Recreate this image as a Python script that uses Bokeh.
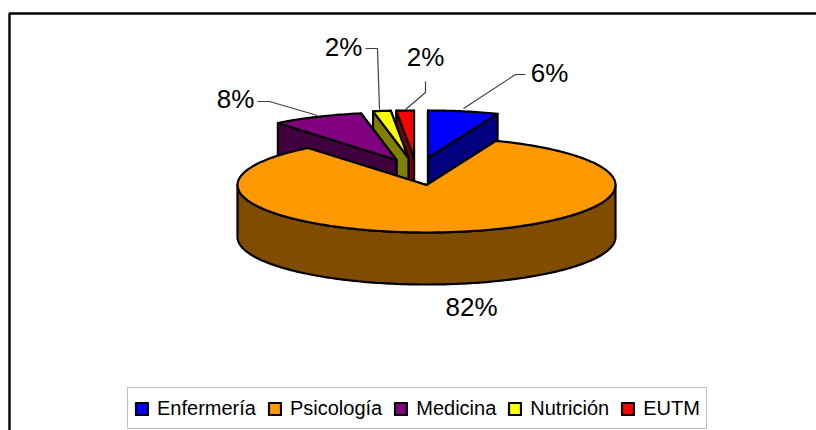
import numpy as np
from bokeh.embed import file_html
from bokeh.resources import INLINE
from bokeh.plotting import figure
from bokeh.models import Range1d, Legend, LegendItem
from bokeh.core.properties import value

# Data
categories = ["Enfermería", "Psicología", "Medicina", "Nutrición", "EUTM"]
shares = [6.0, 83.2, 7.8, 1.5, 1.5]          # slice sizes as drawn
label_values = [6, 82, 8, 2, 2]              # printed percentages
top_colors = ["#0000FF", "#FF9900", "#800080", "#FFFF00", "#FF0000"]
side_colors = ["#000080", "#7F4C00", "#400040", "#808000", "#800000"]

# Layout (page pixels)
CX, CY, RX, RY, DEPTH = 426, 184.5, 189, 47.5, 52
explode = [(1.5, -27), (0, 0), (-30, -25), (-18, -27), (-12.5, -27)]
label_pos = [(549, 72.5), (471, 306.5), (235, 98.5), (343, 46.5), (425, 56.5)]
leaders = [
    [(525, 74), (515, 74), (463, 108)],
    [(257, 101), (269, 101), (317, 115)],
    [(365, 48), (377, 48), (379, 109)],
    [(425, 81), (425, 92), (405, 109)],
]

p = figure(width=816, height=430, x_range=Range1d(0, 816), y_range=Range1d(430, 0),
           x_axis_type=None, y_axis_type=None, toolbar_location=None,
           output_backend="svg", min_border=0, outline_line_color=None,
           background_fill_color="white", border_fill_color="white")
p.grid.visible = False

# Chart-area frame (open on the right and at the bottom of the picture)
p.line([9, 9, 816], [430, 13, 13], line_color="black", line_width=2.4)

edges = np.concatenate([[0], np.cumsum(shares)]) * 3.6
EDGE = dict(line_color="black", line_width=2.2, line_join="round")


def arc(a0, a1, ox, oy):
    t = np.radians(np.linspace(a0, a1, max(2, int(abs(a1 - a0)) + 2)))
    return ox + RX * np.sin(t), oy - RY * np.cos(t)


tops = {}
# painter's order: back slices first, the big front slice last
for i in [4, 3, 2, 0, 1]:
    a0, a1 = edges[i], edges[i + 1]
    ox, oy = CX + explode[i][0], CY + explode[i][1]
    ax, ay = arc(a0, a1, ox, oy)
    # radial cut faces, back one first
    for a in sorted([a0, a1], key=lambda v: -np.cos(np.radians(v))):
        ex, ey = arc(a, a, ox, oy)
        p.patch([ox, ex[0], ex[0], ox], [oy, ey[0], ey[0] + DEPTH, oy + DEPTH],
                fill_color=side_colors[i], **EDGE)
    # outer rim, front half only
    r0, r1 = max(a0, 90), min(a1, 270)
    if r1 > r0:
        rx, ry = arc(r0, r1, ox, oy)
        p.patch(np.concatenate([rx, rx[::-1]]), np.concatenate([ry, ry[::-1] + DEPTH]),
                fill_color=side_colors[i], **EDGE)
    tops[i] = p.patch(np.concatenate([[ox], ax]), np.concatenate([[oy], ay]),
                      fill_color=top_colors[i], **EDGE)

# Leader lines
for seg in leaders:
    p.line([q[0] for q in seg], [q[1] for q in seg], line_color="#404040", line_width=1.2)

# Data labels
p.text([q[0] for q in label_pos], [q[1] for q in label_pos],
       text=[f"{v}%" for v in label_values], text_align="center", text_baseline="middle",
       text_font=value("Liberation Sans"), text_font_size="26px", text_color="black")

legend = Legend(
    items=[LegendItem(label=c, renderers=[tops[i]]) for i, c in enumerate(categories)],
    orientation="horizontal", location=(127, 1), glyph_width=15, glyph_height=15,
    label_standoff=8, spacing=11, padding=6, margin=0, label_height=28,
    label_text_font="Liberation Sans", label_text_font_size="20px", label_text_color="black",
    border_line_color="#808080", border_line_width=1.5, background_fill_alpha=1,
)
p.add_layout(legend, "center")

open("out.html", "w").write(file_html(p, INLINE))
